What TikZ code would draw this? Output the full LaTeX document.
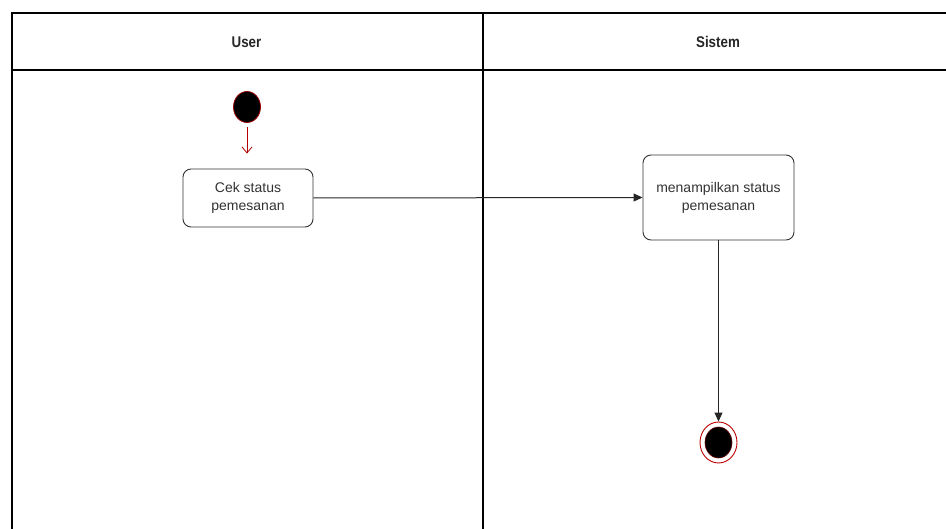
\documentclass[tikz,border=0pt]{standalone}
\usepackage{fontspec}
\setmainfont{Liberation Sans}
\usetikzlibrary{arrows.meta,shapes.geometric}
\begin{document}
\begin{tikzpicture}[x=1pt,y=-1pt,
  lane/.style={draw=black,line width=1.1pt},
  action/.style={draw=black!80,line width=0.9pt,rounded corners=8pt,fill=white,
    align=center,font=\fontsize{14}{18}\selectfont,text=black!80,inner sep=0pt},
  flow/.style={draw=black!85,line width=1pt,-{Triangle[length=9pt,width=8pt]}},
  startflow/.style={draw=red!70!black,line width=0.8pt,-{Straight Barb[length=6pt,width=10pt]},
    shorten <=4pt,shorten >=15pt},
  header/.style={font=\fontsize{15.5}{18}\selectfont\bfseries\addfontfeature{FakeStretch=0.86},text=black!85},
]
\useasboundingbox (0,0) rectangle (946,529);
\fill[white] (0,0) rectangle (946,529);

% swimlane frame
\draw[lane] (12,529) -- (12,13) -- (946,13);
\draw[lane] (12,70) -- (946,70);
\draw[lane] (483,13) -- (483,529);
\node[header] (user) at (246.5,42) {User};
\node[header] (sistem) at (718,42) {Sistem};

% start state
\node[ellipse,fill=black,draw=red!60!black,line width=0.8pt,
  minimum width=27pt,minimum height=31pt,inner sep=0pt] (start) at (247,107) {};

% actions
\node[action,minimum width=130pt,minimum height=58pt] (cek) at (248,198)
  {Cek status\\pemesanan};
\node[action,minimum width=151pt,minimum height=85pt] (tampil) at (718.5,197.5)
  {menampilkan status\\pemesanan};

% final state
\node[ellipse,draw=red!75!black,line width=0.9pt,fill=white,
  minimum width=37pt,minimum height=41pt,inner sep=0pt] (end) at (718.5,442.5) {};
\node[ellipse,fill=black,draw=red!40!black,line width=0.6pt,
  minimum width=27pt,minimum height=31pt,inner sep=0pt] (endin) at (718.5,442.5) {};

% transitions
\draw[startflow] (start) -- (start |- cek.north);
\draw[flow] (cek.east) -- (tampil.west);
\draw[flow] (tampil.south) -- (end.north);
\end{tikzpicture}
\end{document}
